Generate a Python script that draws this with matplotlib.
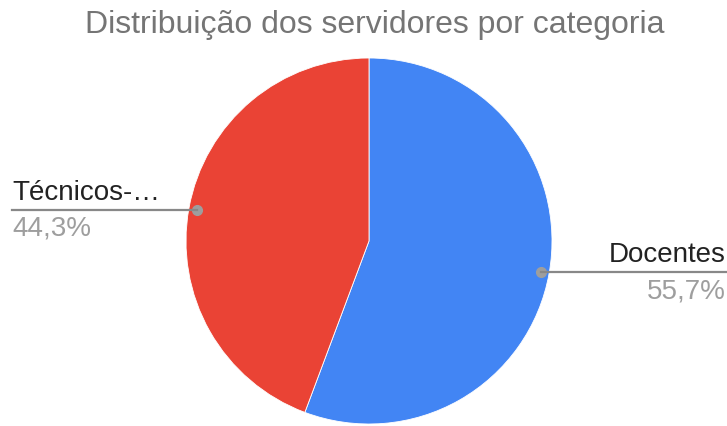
import numpy as np
import matplotlib
matplotlib.use("Agg")
import matplotlib.pyplot as plt

categories = ["Docentes", "Técnicos-…"]
values = [55.7, 44.3]
pct_labels = ["55,7%", "44,3%"]
colors = ["#4285F4", "#EA4335"]
title = "Distribuição dos servidores por categoria"

plt.rcParams['font.family'] = ['Liberation Sans', 'DejaVu Sans']

W, H = 727, 426
fig = plt.figure(figsize=(W / 100, H / 100), dpi=100)
cx, cy, r = 369, 241, 183
ax = fig.add_axes([(cx - r) / W, (H - cy - r) / H, 2 * r / W, 2 * r / H])
wedges, _ = ax.pie(values, colors=colors, startangle=90, counterclock=False,
                   wedgeprops=dict(linewidth=0.6, edgecolor='white'))
ax.set_xlim(-1, 1)
ax.set_ylim(-1, 1)
ax.set_aspect('equal')
ax.axis('off')

fig.text(374.5 / W, 1 - 25 / H, title, ha='center', va='center', fontsize=23, color='#757575')

start = 90.0
total = sum(values)
for v, name, pct in zip(values, categories, pct_labels):
    span = 360 * v / total
    mid = np.deg2rad(start - span / 2)
    start -= span
    x, y = 0.955 * np.cos(mid), 0.955 * np.sin(mid)
    ax.plot([x], [y], 'o', color='#9E9E9E', markersize=7, clip_on=False, zorder=5)
    if np.cos(mid) >= 0:
        xe, ha = 1.0, 'right'
        xt = 1 - 1 / W
    else:
        xe, ha = 12 / W, 'left'
        xt = 12 / W
    dot_fig = fig.transFigure.inverted().transform(ax.transData.transform((x, y)))
    fig.add_artist(plt.Line2D([dot_fig[0], xe], [dot_fig[1], dot_fig[1]],
                              transform=fig.transFigure, color='#888888', lw=1.6, zorder=4))
    fig.text(xt, dot_fig[1] + 4 / H, name, ha=ha, va='bottom', fontsize=20, color='#222222')
    fig.text(xt, dot_fig[1] - 6 / H, pct, ha=ha, va='top', fontsize=20, color='#9E9E9E')

fig.savefig("out.png", dpi=100)
